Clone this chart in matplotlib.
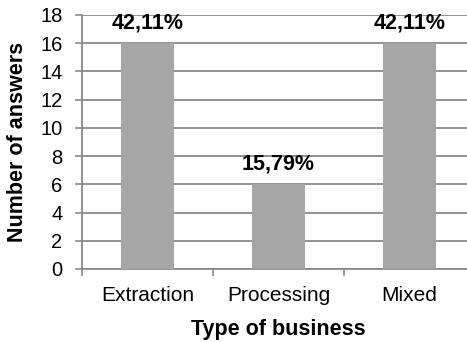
import matplotlib
matplotlib.use('Agg')
import matplotlib.pyplot as plt
import numpy as np

# data
categories = ['Extraction', 'Processing', 'Mixed']
answers = [16, 6, 16]
pct_labels = ['42,11%', '15,79%', '42,11%']
yticks = [0, 2, 4, 6, 8, 10, 12, 14, 16, 18]

plt.rcParams['font.family'] = ['Liberation Sans', 'DejaVu Sans']

fig = plt.figure(figsize=(4.67, 3.42), dpi=100)
# axes run slightly past the right image edge, as in the reference
ax = fig.add_axes([82/467, 1-269/342, (475-82)/467, (269-15)/342])

grey = '#898989'
x = np.arange(len(categories))
ax.bar(x, answers, width=0.4, color='#a6a6a6', zorder=3)

for xi, v, lab in zip(x, answers, pct_labels):
    ax.text(xi, v + 1.45, lab, ha='center', va='center',
            fontsize=15.5, fontweight='bold', zorder=4)

ax.set_xlim(-0.5, len(categories) - 0.5)
ax.set_ylim(0, 18)
ax.set_yticks(yticks)
ax.yaxis.grid(True, color=grey, linewidth=1.3, zorder=0)
ax.set_axisbelow(True)

ax.set_xticks(x)
ax.set_xticklabels(categories, fontsize=15)
ax.set_xticks(np.arange(-0.5, len(categories), 1), minor=True)
ax.tick_params(axis='x', which='major', length=0, pad=12)
ax.tick_params(axis='x', which='minor', length=5, color=grey, width=1.2)
ax.tick_params(axis='y', length=5, color=grey, width=1.2, labelsize=14.5, pad=9)

for s in ['top', 'right']:
    ax.spines[s].set_visible(False)
for s in ['left', 'bottom']:
    ax.spines[s].set_color(grey)
    ax.spines[s].set_linewidth(1.3)

ax.set_ylabel('Number of answers', fontsize=15.5, fontweight='bold', labelpad=9)
ax.set_xlabel('Type of business', fontsize=15.5, fontweight='bold', labelpad=10)

fig.savefig('out.png', dpi=100)
